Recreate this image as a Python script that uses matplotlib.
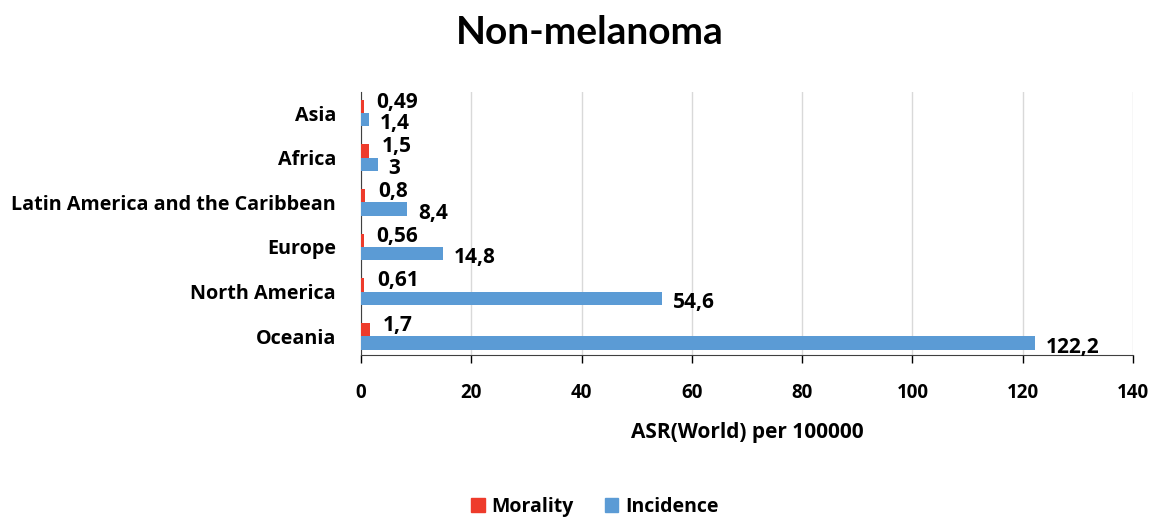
import numpy as np
import matplotlib
matplotlib.use("Agg")
import matplotlib.pyplot as plt
from matplotlib.patches import Patch

plt.rcParams["font.family"] = ["Open Sans", "DejaVu Sans"]
plt.rcParams["font.weight"] = "bold"

# --- data (bottom to top, as drawn) ---
regions = ["Oceania", "North America", "Europe",
           "Latin America and the Caribbean", "Africa", "Asia"]
mortality = [1.7, 0.61, 0.56, 0.8, 1.5, 0.49]
incidence = [122.2, 54.6, 14.8, 8.4, 3, 1.4]
mort_labels = ["1,7", "0,61", "0,56", "0,8", "1,5", "0,49"]
inc_labels = ["122,2", "54,6", "14,8", "8,4", "3", "1,4"]

red = "#EE3B2B"
blue = "#5B9BD5"

fig = plt.figure(figsize=(11.55, 5.17), dpi=100)
ax = fig.add_axes([0.3126, 0.3133, 0.981 - 0.3126, 0.822 - 0.3133])

y = np.arange(len(regions))
h = 0.3
ax.barh(y + h / 2, mortality, height=h, color=red, zorder=3)
ax.barh(y - h / 2, incidence, height=h, color=blue, zorder=3)

for i in range(len(regions)):
    ax.annotate(mort_labels[i], (mortality[i], y[i] + h / 2),
                xytext=(9, 3), textcoords="offset points",
                va="center", ha="left", fontsize=15, fontweight="bold")
    ax.annotate(inc_labels[i], (incidence[i], y[i] - h / 2),
                xytext=(8, -3), textcoords="offset points",
                va="center", ha="left", fontsize=15, fontweight="bold")

ax.set_xlim(0, 140)
ax.set_ylim(-0.42, 5.47)
ax.set_xticks(np.arange(0, 141, 20))
ax.set_yticks(y)
ax.set_yticklabels(regions, fontsize=14.2, fontweight="bold")
ax.tick_params(axis="y", length=0, pad=18)
ax.tick_params(axis="x", length=6, width=1, direction="out", labelsize=13.5, pad=14)
for lab in ax.get_xticklabels():
    lab.set_fontweight("bold")

ax.grid(axis="x", color="#D9D9D9", linewidth=1, zorder=0)
for s in ["top", "right"]:
    ax.spines[s].set_visible(False)
ax.spines["left"].set_color("#404040")
ax.spines["bottom"].set_color("#404040")

ax.set_xlabel("ASR(World) per 100000", fontsize=15, fontweight="bold", labelpad=14)

fig.text(0.511, 0.938, "Non-melanoma", ha="center", va="center",
         family=["Lato", "DejaVu Sans"], fontsize=28, fontweight="bold")

handles = [Patch(color=red, label="Morality"), Patch(color=blue, label="Incidence")]
fig.legend(handles=handles, loc="center", bbox_to_anchor=(0.515, 0.02), ncol=2,
           frameon=False, fontsize=14, handlelength=0.7, handleheight=0.7,
           columnspacing=1.6, handletextpad=0.35, borderpad=0)

plt.savefig("out.png", dpi=100)
